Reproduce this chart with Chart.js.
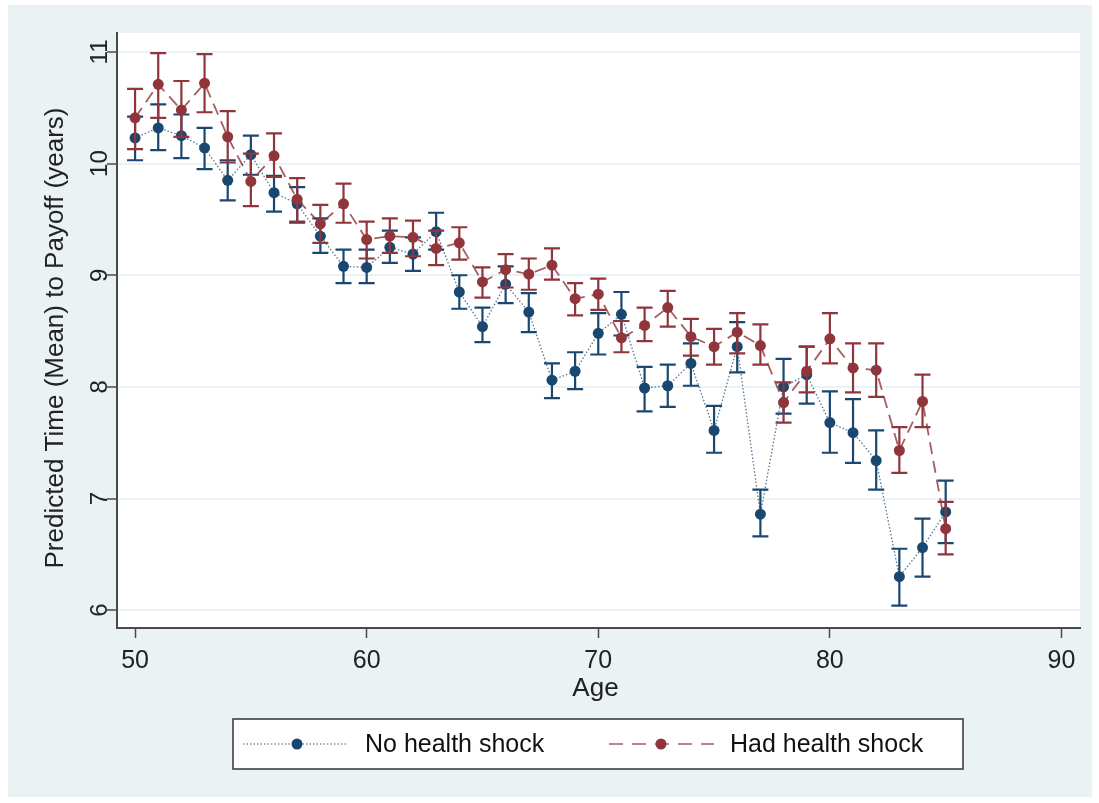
<!DOCTYPE html>
<html>
<head>
<meta charset="utf-8">
<script src="https://cdn.jsdelivr.net/npm/chart.js@4.4.1/dist/chart.umd.min.js"></script>
<style>
  html, body { margin: 0; padding: 0; background: #fff; }
  #wrap { width: 1099px; height: 803px; }
</style>
</head>
<body>
<div id="wrap"><canvas id="chart1" width="1099" height="803"></canvas></div>
<script>
// age groups on the x axis
var ages = [50, 51, 52, 53, 54, 55, 56, 57, 58, 59, 60, 61, 62, 63, 64, 65, 66, 67,
            68, 69, 70, 71, 72, 73, 74, 75, 76, 77, 78, 79, 80, 81, 82, 83, 84, 85];

// No health shock: mean and CI
var noShock   = [10.23, 10.32, 10.25, 10.14, 9.85, 10.08, 9.74, 9.64, 9.35, 9.08, 9.07, 9.25,
                 9.19, 9.39, 8.85, 8.54, 8.92, 8.67, 8.06, 8.14, 8.48, 8.65, 7.99, 8.01,
                 8.21, 7.61, 8.36, 6.86, 8.00, 8.11, 7.68, 7.59, 7.34, 6.30, 6.56, 6.88];
var noShockLo = [10.03, 10.12, 10.05, 9.95, 9.67, 9.90, 9.57, 9.47, 9.20, 8.93, 8.93, 9.11,
                 9.04, 9.23, 8.70, 8.40, 8.75, 8.49, 7.90, 7.98, 8.29, 8.46, 7.78, 7.82,
                 8.01, 7.41, 8.13, 6.66, 7.76, 7.85, 7.41, 7.32, 7.08, 6.04, 6.30, 6.60];
var noShockHi = [10.42, 10.53, 10.44, 10.32, 10.03, 10.25, 9.89, 9.79, 9.51, 9.23, 9.23, 9.40,
                 9.34, 9.56, 9.00, 8.71, 9.08, 8.84, 8.21, 8.31, 8.66, 8.85, 8.18, 8.20,
                 8.39, 7.83, 8.58, 7.08, 8.25, 8.36, 7.96, 7.89, 7.61, 6.55, 6.82, 7.16];

// Had health shock: mean and CI
var hadShock   = [10.41, 10.71, 10.48, 10.72, 10.24, 9.84, 10.07, 9.68, 9.46, 9.64, 9.32, 9.35,
                  9.34, 9.24, 9.29, 8.94, 9.05, 9.01, 9.09, 8.79, 8.83, 8.44, 8.55, 8.71,
                  8.45, 8.36, 8.49, 8.37, 7.86, 8.14, 8.43, 8.17, 8.15, 7.43, 7.87, 6.73];
var hadShockLo = [10.13, 10.41, 10.24, 10.46, 10.01, 9.62, 9.88, 9.48, 9.29, 9.47, 9.15, 9.20,
                  9.17, 9.09, 9.14, 8.80, 8.89, 8.87, 8.96, 8.64, 8.69, 8.31, 8.41, 8.54,
                  8.28, 8.20, 8.30, 8.20, 7.68, 7.95, 8.21, 7.95, 7.91, 7.23, 7.64, 6.50];
var hadShockHi = [10.67, 10.99, 10.74, 10.98, 10.47, 10.09, 10.27, 9.87, 9.63, 9.82, 9.48, 9.51,
                  9.49, 9.40, 9.43, 9.07, 9.19, 9.15, 9.24, 8.93, 8.97, 8.59, 8.71, 8.86,
                  8.61, 8.52, 8.66, 8.56, 8.04, 8.36, 8.66, 8.39, 8.39, 7.64, 8.11, 6.97];

var xTicks = [50, 60, 70, 80, 90];
var yTicks = [6, 7, 8, 9, 10, 11];
var legendLabels = ['No health shock', 'Had health shock'];

var BLUE = '#1A476F';
var RED = '#90353B';
var BG = '#EAF2F3';
var AXIS = '#4a4a4a';
var FONT = '"Liberation Sans", Arial, sans-serif';

function toPoints(ys) {
  return ages.map(function(a, i) { return { x: a, y: ys[i] }; });
}

var bgPlugin = {
  id: 'bg',
  beforeDraw: function(chart) {
    var ctx = chart.ctx, a = chart.chartArea;
    ctx.save();
    ctx.fillStyle = '#fff';
    ctx.fillRect(0, 0, chart.width, chart.height);
    ctx.fillStyle = BG;
    ctx.fillRect(8, 5, 1084, 792);
    ctx.fillStyle = '#fff';
    ctx.fillRect(a.left, a.top, a.right - a.left, a.bottom - a.top);
    ctx.restore();
  }
};

// error bars with caps, drawn just before each dataset's line and dots
var errorBars = {
  id: 'errorBars',
  beforeDatasetDraw: function(chart, args) {
    var ds = chart.data.datasets[args.index];
    if (!ds.lo) return;
    var ctx = chart.ctx, xs = chart.scales.x, ys = chart.scales.y;
    ctx.save();
    ctx.strokeStyle = ds.barColor;
    ctx.lineWidth = 2.2;
    ds.lo.forEach(function(lo, i) {
      var px = xs.getPixelForValue(ages[i]);
      var y1 = ys.getPixelForValue(lo);
      var y2 = ys.getPixelForValue(ds.hi[i]);
      ctx.beginPath();
      ctx.moveTo(px, y1); ctx.lineTo(px, y2);
      ctx.moveTo(px - 8, y1); ctx.lineTo(px + 8, y1);
      ctx.moveTo(px - 8, y2); ctx.lineTo(px + 8, y2);
      ctx.stroke();
    });
    ctx.restore();
  }
};

var textPlugin = {
  id: 'texts',
  afterDraw: function(chart) {
    var ctx = chart.ctx, a = chart.chartArea, ys = chart.scales.y;
    ctx.save();
    ctx.fillStyle = '#222';
    ctx.textAlign = 'center';
    ctx.textBaseline = 'middle';

    // rotated y tick labels
    ctx.font = '24px ' + FONT;
    yTicks.forEach(function(v) {
      ctx.save();
      ctx.translate(100, ys.getPixelForValue(v));
      ctx.rotate(-Math.PI / 2);
      ctx.fillText(String(v), 0, 0);
      ctx.restore();
    });

    // y title
    ctx.font = '26px ' + FONT;
    ctx.save();
    ctx.translate(56, 338);
    ctx.rotate(-Math.PI / 2);
    ctx.fillText('Predicted Time (Mean) to Payoff (years)', 0, 0);
    ctx.restore();

    // x title
    ctx.fillText('Age', (a.left + a.right) / 2 - 3, 689);

    // legend box
    ctx.fillStyle = '#fff';
    ctx.fillRect(233, 719, 730, 50);
    ctx.strokeStyle = '#333';
    ctx.lineWidth = 1.5;
    ctx.strokeRect(233, 719, 730, 50);

    var items = [
      { x0: 243, x1: 348, dot: 297, tx: 365, color: BLUE, line: 'rgba(26,71,111,0.6)', dash: [1.5, 2], w: 1.4 },
      { x0: 609, x1: 714, dot: 661, tx: 730, color: RED, line: 'rgba(144,53,59,0.6)', dash: [14, 9], w: 2 }
    ];
    items.forEach(function(it, i) {
      ctx.strokeStyle = it.line;
      ctx.lineWidth = it.w;
      ctx.setLineDash(it.dash);
      ctx.beginPath();
      ctx.moveTo(it.x0, 744); ctx.lineTo(it.x1, 744);
      ctx.stroke();
      ctx.setLineDash([]);
      ctx.fillStyle = it.color;
      ctx.beginPath();
      ctx.arc(it.dot, 744, 5.5, 0, Math.PI * 2);
      ctx.fill();
      ctx.fillStyle = '#111';
      ctx.font = '25px ' + FONT;
      ctx.textAlign = 'left';
      ctx.fillText(legendLabels[i], it.tx, 745);
    });
    ctx.restore();
  }
};

var ctx = document.getElementById('chart1').getContext('2d');
var myChart = new Chart(ctx, {
  type: 'line',
  data: {
    datasets: [
      {
        label: legendLabels[1],
        data: toPoints(hadShock),
        lo: hadShockLo,
        hi: hadShockHi,
        barColor: RED,
        borderColor: 'rgba(144,53,59,0.8)',
        borderWidth: 1.8,
        borderDash: [12, 7],
        pointRadius: 5.5,
        pointBorderWidth: 0,
        pointBackgroundColor: RED,
        fill: false,
        tension: 0
      },
      {
        label: legendLabels[0],
        data: toPoints(noShock),
        lo: noShockLo,
        hi: noShockHi,
        barColor: BLUE,
        borderColor: 'rgba(26,71,111,0.75)',
        borderWidth: 1.3,
        borderDash: [1.5, 2],
        pointRadius: 5.5,
        pointBorderWidth: 0,
        pointBackgroundColor: BLUE,
        fill: false,
        tension: 0
      }
    ]
  },
  options: {
    responsive: false,
    animation: false,
    layout: { padding: { top: 33, right: 19, left: 0, bottom: 0 } },
    plugins: {
      legend: { display: false },
      tooltip: { enabled: false }
    },
    scales: {
      x: {
        type: 'linear',
        min: 49.22,
        max: 90.8,
        afterBuildTicks: function(s) { s.ticks = xTicks.map(function(v) { return { value: v }; }); },
        afterFit: function(s) { s.height = 175; },
        grid: { drawOnChartArea: false, tickLength: 10, tickColor: AXIS, tickWidth: 1.5 },
        border: { color: AXIS, width: 2 },
        ticks: { color: '#222', font: { family: FONT, size: 25 }, padding: 8, maxRotation: 0 }
      },
      y: {
        type: 'linear',
        min: 5.84,
        max: 11.17,
        afterBuildTicks: function(s) { s.ticks = yTicks.map(function(v) { return { value: v }; }); },
        afterFit: function(s) { s.width = 117; },
        grid: { color: BG, lineWidth: 2, tickLength: 10, tickColor: AXIS, tickWidth: 1.5 },
        border: { color: AXIS, width: 2 },
        ticks: { display: false }
      }
    }
  },
  plugins: [bgPlugin, errorBars, textPlugin]
});
</script>
</body>
</html>
